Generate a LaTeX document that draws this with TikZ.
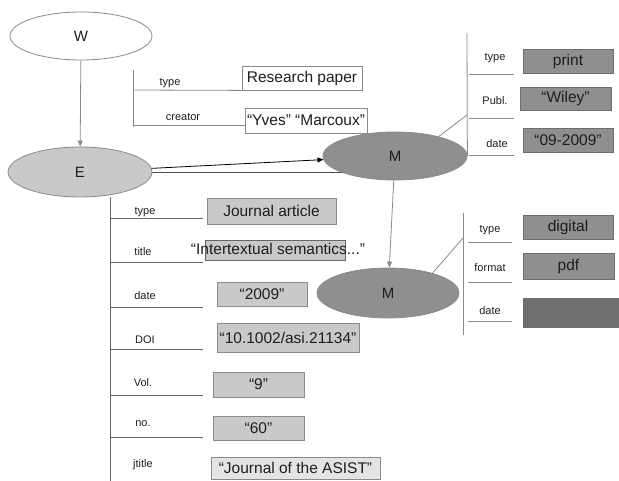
\documentclass[tikz,border=0pt]{standalone}
\usepackage{fontspec}
\setmainfont{Liberation Sans}
\usetikzlibrary{shapes.geometric, arrows.meta, positioning, backgrounds}
\definecolor{lightfill}{HTML}{C9C9C9}
\definecolor{darkfill}{HTML}{8F8F8F}
\definecolor{darkerfill}{HTML}{6E6E6E}
\definecolor{linegray}{HTML}{8A8A8A}
\definecolor{textgray}{HTML}{1E1E1E}
\tikzset{
  entity/.style={ellipse, draw=linegray, line width=0.8pt, inner sep=0pt, text=textgray, font=\fontsize{15}{17}\selectfont},
  attr/.style={text=textgray, font=\fontsize{11}{13}\selectfont, inner sep=1pt},
  valbox/.style={draw=linegray, line width=0.8pt, fill=lightfill, inner sep=0pt, text=textgray, font=\fontsize{15.5}{18}\selectfont},
  darkbox/.style={valbox, fill=darkfill, draw=darkerfill},
  treeline/.style={draw=linegray, line width=0.8pt},
  arr/.style={line width=0.8pt, -{Triangle[length=6pt,width=5pt]}},
}

\begin{document}
\begin{tikzpicture}[x=1pt, y=-1pt]
  \useasboundingbox (0,0) rectangle (619,481);

  % entities
  \node[entity, fill=white, minimum width=142pt, minimum height=48pt] (W) at (81,36) {W};
  \node[entity, fill=lightfill, minimum width=144pt, minimum height=50pt] (E) at (80,172) {E};
  \node[entity, fill=darkfill, minimum width=144pt, minimum height=48pt] (M1) at (395,156) {M};
  \node[entity, fill=darkfill, minimum width=142pt, minimum height=50pt] (M2) at (388,293) {M};

  \draw[arr, draw=linegray] (W) -- (E);
  \draw[arr, draw=black] (E) -- (M1);
  \draw[arr, draw=linegray] (M1) -- (M2);
  \begin{scope}[on background layer]
    \draw[treeline, draw=black!70] (E.east) -- (E.east -| M1.center);
  \end{scope}

  % W attributes
  \coordinate (wtop) at (133,70);
  \coordinate (wbot) at (133,127);
  \draw[treeline] (wtop) -- (wbot);
  \node[attr] (wtypel) at (170,83) {type};
  \node[attr] (wcreal) at (183,117) {creator};
  \node[valbox, fill=white, minimum width=120pt, minimum height=24pt] (wtype) at (302,78) {Research paper};
  \node[valbox, fill=white, minimum width=122pt, minimum height=25pt] (wcrea) at (306,120.5) {“Yves” “Marcoux”};
  \draw[treeline] (133,90) -- (wtype.south west);
  \draw[treeline] (133,125) -- (wcrea.west |- 0,125);

  % E attributes
  \coordinate (etop) at (110,197);
  \coordinate (ebot) at (110,481);
  \draw[treeline, draw=black!60] (etop) -- (ebot);
  \node[attr] (etypel) at (145,212) {type};
  \node[attr] (etitl) at (143,252) {title};
  \node[attr] (edatel) at (145,296) {date};
  \node[attr] (edoil) at (145,340) {DOI};
  \node[attr] (evoll) at (143,383) {Vol.};
  \node[attr] (enol) at (143,424) {no.};
  \node[attr] (ejtil) at (143,465) {jtitle};
  \foreach \y in {218,262,307,349,395,437}
    \draw[treeline, draw=black!60] (110,\y) -- (203,\y);
  \node[valbox, minimum width=129pt, minimum height=26pt] (etype) at (271.5,211) {Journal article};
  \node[valbox, minimum width=140pt, minimum height=20pt, draw=black!60] (etitbox) at (275,250) {};
  \node[text=textgray, font=\fontsize{15.5}{18}\selectfont, inner sep=0pt] (etit) at (278,249) {“Intertextual semantics...”};
  \node[valbox, minimum width=90pt, minimum height=24pt] (edate) at (262,294) {“2009”};
  \node[valbox, minimum width=142pt, minimum height=29pt] (edoi) at (288,337.5) {“10.1002/asi.21134”};
  \node[valbox, minimum width=91pt, minimum height=25pt] (evol) at (258.5,384.5) {“9”};
  \node[valbox, minimum width=91pt, minimum height=24pt] (eno) at (258.5,428) {“60”};
  \node[valbox, fill=lightfill!50, minimum width=169pt, minimum height=22pt] (ejti) at (295.5,468) {“Journal of the ASIST”};

  % M (print) attributes
  \coordinate (mtop) at (467,33);
  \draw[treeline] (mtop) -- (M1.east);
  \draw[treeline] (M1.24) -- (467,115);
  \node[attr] (mtypel) at (495,58) {type};
  \node[attr] (mpubl) at (495,101) {Publ.};
  \node[attr] (mdatel) at (497,144) {date};
  \foreach \y in {74,118,155}
    \draw[treeline] (469,\y) -- (514,\y);
  \node[darkbox, minimum width=90pt, minimum height=24pt] (mtype) at (568,61) {print};
  \node[darkbox, minimum width=91pt, minimum height=23pt] (mpub) at (565.5,98.5) {“Wiley”};
  \node[darkbox, minimum width=90pt, minimum height=24pt] (mdate) at (568,140) {“09-2009”};

  % M (digital) attributes
  \coordinate (ntop) at (463,213);
  \coordinate (nbot) at (463,335);
  \draw[treeline] (ntop) -- (nbot);
  \draw[treeline] (M2.24) -- (463,238);
  \node[attr] (ntypel) at (490,230) {type};
  \node[attr] (nforl) at (490,268) {format};
  \node[attr] (ndatel) at (490,311) {date};
  \foreach \y in {242,282,321}
    \draw[treeline] (468,\y) -- (512,\y);
  \node[darkbox, minimum width=90pt, minimum height=24pt] (ntype) at (568,227) {digital};
  \node[darkbox, minimum width=91pt, minimum height=26pt] (nfor) at (568.5,266) {pdf};
  \node[darkbox, fill=darkerfill, draw=darkerfill, minimum width=96pt, minimum height=29pt] (ndate) at (571,312.5) {};
\end{tikzpicture}
\end{document}
